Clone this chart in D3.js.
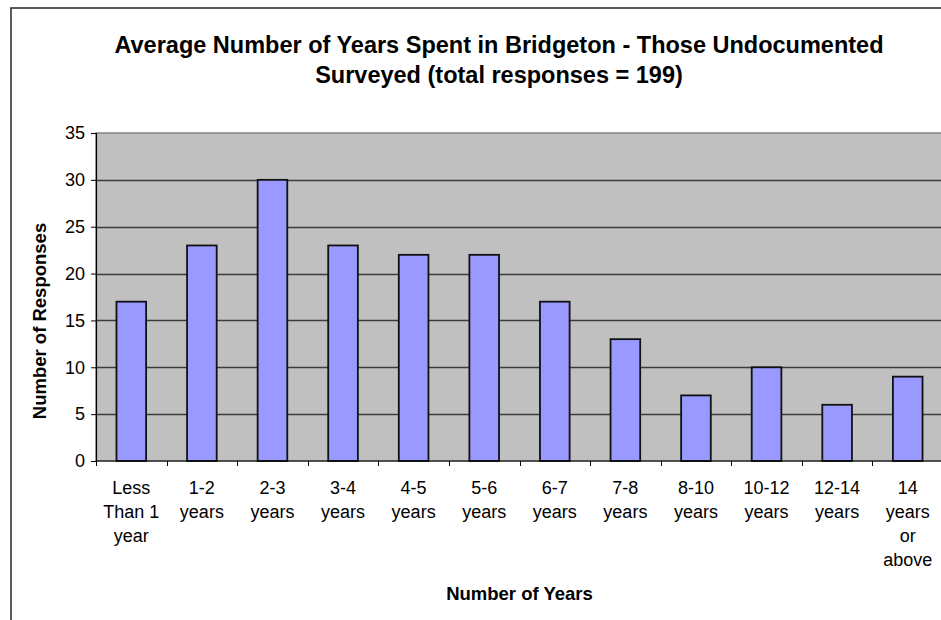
<!DOCTYPE html>
<html>
<head>
<meta charset="utf-8">
<script src="https://cdn.jsdelivr.net/npm/d3@7"></script>
<style>
  html, body { margin: 0; padding: 0; background: #fff; }
  svg { display: block; font-family: "Liberation Sans", Arial, sans-serif; }
</style>
</head>
<body>
<svg id="chart" width="941" height="620"></svg>
<script>
// Survey data: years spent in Bridgeton
const categories = [
  ["Less", "Than 1", "year"],
  ["1-2", "years"],
  ["2-3", "years"],
  ["3-4", "years"],
  ["4-5", "years"],
  ["5-6", "years"],
  ["6-7", "years"],
  ["7-8", "years"],
  ["8-10", "years"],
  ["10-12", "years"],
  ["12-14", "years"],
  ["14", "years", "or", "above"]
];
const responses = [17, 23, 30, 23, 22, 22, 17, 13, 7, 10, 6, 9];
const yTicks = [0, 5, 10, 15, 20, 25, 30, 35];
const titleLines = [
  "Average Number of Years Spent in Bridgeton - Those Undocumented",
  "Surveyed (total responses = 199)"
];
const xTitle = "Number of Years";
const yTitle = "Number of Responses";

const svg = d3.select("#chart");
const W = 941, H = 620;

// Plot area bounds
const plot = { left: 96, right: 943, top: 133, bottom: 461 };

const keys = categories.map((c, i) => i);
const x = d3.scaleBand()
  .domain(keys)
  .range([plot.left, plot.right])
  .paddingInner(0.58)
  .paddingOuter(0.29);

const y = d3.scaleLinear()
  .domain([0, 35])
  .range([plot.bottom, plot.top]);

// Outer chart frame
svg.append("rect")
  .attr("x", 11).attr("y", 8)
  .attr("width", W + 20).attr("height", H + 20)
  .attr("fill", "#fff")
  .attr("stroke", "#333")
  .attr("stroke-width", 1.6);

// Plot background
svg.append("rect")
  .attr("x", plot.left).attr("y", plot.top)
  .attr("width", plot.right - plot.left)
  .attr("height", plot.bottom - plot.top)
  .attr("fill", "#c0c0c0")
  .attr("stroke", "#808080")
  .attr("stroke-width", 1.4);

// Horizontal gridlines
svg.append("g")
  .selectAll("line")
  .data(yTicks.filter(v => v > 0 && v < 35))
  .join("line")
  .attr("x1", plot.left).attr("x2", plot.right)
  .attr("y1", d => Math.round(y(d)) + 0.5)
  .attr("y2", d => Math.round(y(d)) + 0.5)
  .attr("stroke", "#3c3c3c")
  .attr("stroke-width", 1.4);

// Bars
svg.append("g")
  .selectAll("rect")
  .data(responses)
  .join("rect")
  .attr("x", (d, i) => x(i))
  .attr("y", d => y(d))
  .attr("width", x.bandwidth())
  .attr("height", d => y(0) - y(d))
  .attr("fill", "#9999ff")
  .attr("stroke", "#111")
  .attr("stroke-width", 1.8);

// Y axis
const yAxis = d3.axisLeft(y)
  .tickValues(yTicks)
  .tickSize(5)
  .tickPadding(6)
  .tickFormat(d3.format("d"));
const gy = svg.append("g")
  .attr("transform", `translate(${plot.left},0)`)
  .call(yAxis);
gy.select(".domain").attr("stroke", "#000").attr("stroke-width", 1.2);
gy.selectAll(".tick line").attr("stroke", "#000");
gy.selectAll(".tick text")
  .attr("font-size", 18)
  .attr("font-family", "Liberation Sans, Arial, sans-serif")
  .attr("fill", "#000");

// X axis: ticks sit on category boundaries
const step = x.step();
const boundaries = d3.range(categories.length + 1).map(i => plot.left + i * step);
const gx = svg.append("g");
gx.append("line")
  .attr("x1", plot.left).attr("x2", plot.right)
  .attr("y1", plot.bottom).attr("y2", plot.bottom)
  .attr("stroke", "#000").attr("stroke-width", 1.2);
gx.selectAll("line.tick")
  .data(boundaries)
  .join("line")
  .attr("class", "tick")
  .attr("x1", d => Math.round(d) + 0.5).attr("x2", d => Math.round(d) + 0.5)
  .attr("y1", plot.bottom).attr("y2", plot.bottom + 5)
  .attr("stroke", "#000");

// Category labels (multi-line)
const xl = svg.append("g")
  .attr("font-size", 18)
  .attr("fill", "#000")
  .attr("text-anchor", "middle");
xl.selectAll("text")
  .data(categories)
  .join("text")
  .attr("x", (d, i) => x(i) + x.bandwidth() / 2)
  .attr("y", 494)
  .each(function(lines) {
    const t = d3.select(this);
    lines.forEach((ln, j) => {
      t.append("tspan")
        .attr("x", t.attr("x"))
        .attr("y", 494 + j * 24)
        .text(ln);
    });
  });

// Title
svg.append("g")
  .attr("font-size", 23.5)
  .attr("font-weight", "bold")
  .attr("text-anchor", "middle")
  .selectAll("text")
  .data(titleLines)
  .join("text")
  .attr("x", 499)
  .attr("y", (d, i) => 53 + i * 30)
  .text(d => d);

// Axis titles
svg.append("text")
  .attr("x", (plot.left + plot.right) / 2)
  .attr("y", 600)
  .attr("text-anchor", "middle")
  .attr("font-size", 18.5)
  .attr("font-weight", "bold")
  .text(xTitle);

svg.append("text")
  .attr("transform", "translate(46,321) rotate(-90)")
  .attr("text-anchor", "middle")
  .attr("font-size", 18.5)
  .attr("font-weight", "bold")
  .text(yTitle);
</script>
</body>
</html>
